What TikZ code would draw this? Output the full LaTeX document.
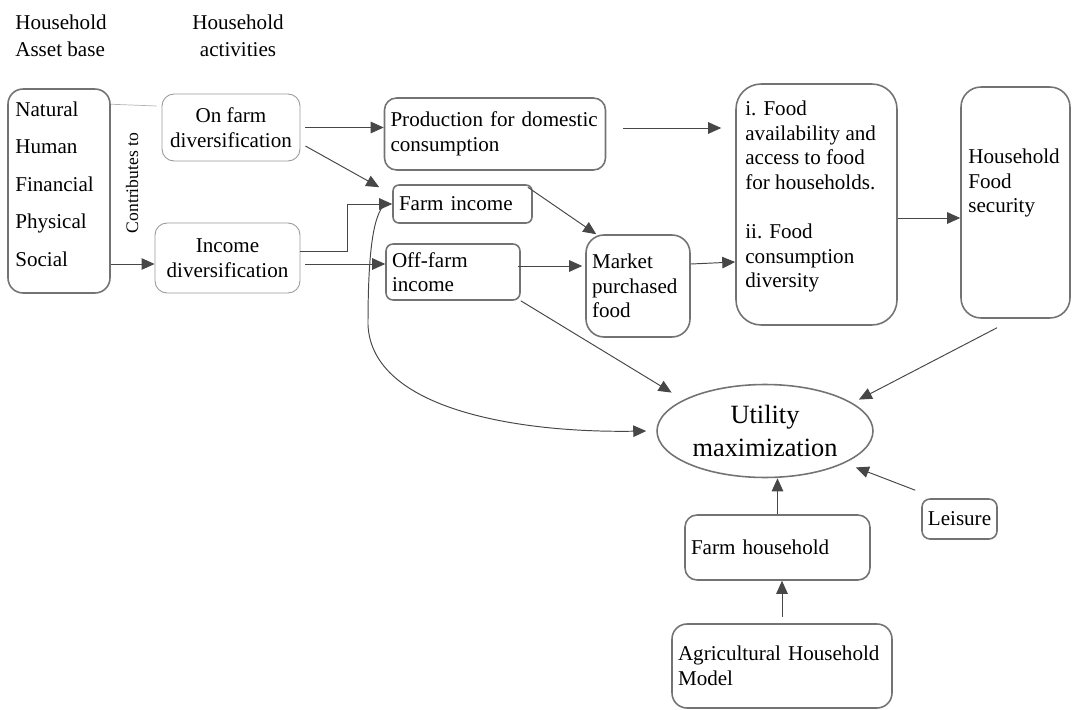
\documentclass[tikz,border=0pt]{standalone}
\usepackage{fontspec}
\setmainfont{Liberation Serif}
\usetikzlibrary{arrows.meta,shapes.geometric,calc}

\begin{document}
\begin{tikzpicture}[x=0.02cm,y=-0.02cm,>={Triangle[length=2.6mm,width=2.3mm]},
  every node/.style={font=\fontsize{12}{14}\selectfont},
  box/.style={draw=black!55, line width=0.9pt, rounded corners=#1, align=left, inner xsep=0.12cm, inner ysep=0pt},
  box/.default=0.24cm,
  thinbox/.style={draw=black!40, line width=0.5pt, rounded corners=0.24cm, align=center, inner sep=0pt},
  conn/.style={draw=black!72, line width=0.55pt, ->},
  thinline/.style={draw=black!30, line width=0.4pt}]
  \useasboundingbox (0,0) rectangle (1076,710);

  \node[align=left, font=\fontsize{12}{15.3}\selectfont] (assettitle) at (61,36) {Household\\Asset base};
  \node[align=center, font=\fontsize{12}{15.3}\selectfont] (acttitle) at (238,36) {Household\\activities};

  \node[box=0.3cm, minimum width=2.04cm, minimum height=4.08cm] (asset) at (59,191) {};
  \node[anchor=west, inner sep=0pt, align=left, font=\fontsize{12}{21.3}\selectfont] (assetlist) at (15,184) {Natural\\Human\\Financial\\Physical\\Social};
  \node[rotate=90, font=\fontsize{10}{12}\selectfont] (contrib) at (132,183) {Contributes to};

  \node[thinbox, minimum width=2.76cm, minimum height=1.34cm] (onfarm) at (231,127.5) {On farm\\diversification};
  \node[thinbox, minimum width=2.9cm, minimum height=1.4cm] (incdiv) at (227.5,258) {Income\\diversification};

  \node[box, text width=4.18cm, minimum height=1.44cm] (prod) at (495,134) {Production for domestic\\consumption};
  \node[box=0.12cm, text width=2.54cm, minimum height=0.76cm] (farminc) at (462.5,204) {Farm income};
  \node[box=0.14cm, text width=2.44cm, minimum height=1.12cm] (offfarm) at (453,272) {Off-farm\\income};
  \node[box=0.36cm, text width=1.84cm, minimum height=2.04cm] (market) at (638,286) {Market\\purchased\\food};

  \node[box=0.5cm, minimum width=3.22cm, minimum height=4.82cm] (food) at (816.5,204.5) {};
  \node[anchor=north west, inner sep=0pt, align=left] (foodtext) at (745,100.5) {i. Food\\availability and\\access to food\\for households.\\[14pt]ii. Food\\consumption\\diversity};
  \node[box=0.4cm, minimum width=2.18cm, minimum height=4.62cm] (hfs) at (1015.5,202.5) {};
  \node[anchor=north west, inner sep=0pt, align=left] (hfstext) at (968,148.5) {Household\\Food\\security};

  \node[ellipse, draw=black!55, line width=0.9pt, minimum width=4.32cm, minimum height=1.86cm, inner sep=0pt, align=center, font=\fontsize{15}{18.3}\selectfont] (util) at (765,431) {Utility\\maximization};
  \node[box, text width=3.46cm, minimum height=1.3cm] (farmhh) at (777.5,547.5) {Farm household};
  \node[box=0.3cm, text width=4.16cm, minimum height=1.68cm] (agri) at (782,666) {Agricultural Household\\Model};
  \node[box=0.16cm, align=center, minimum width=1.5cm, minimum height=0.8cm, inner xsep=0pt] (leisure) at (959.5,519) {Leisure};

  \draw[thinline] ([yshift=-0.32cm]asset.north east) -- ([xshift=-0.1cm,yshift=0.43cm]onfarm.west);
  \draw[conn] ([yshift=-0.12cm]asset.east |- incdiv.west) -- ([yshift=-0.12cm]incdiv.west);
  \draw[conn, shorten <=0.1cm] (onfarm.east) -- (onfarm.east -| prod.west);
  \draw[conn] ([xshift=0.1cm,yshift=-0.37cm]onfarm.east) -- ([xshift=-0.26cm,yshift=-0.06cm]farminc.north west);
  \draw[conn] ([yshift=0.14cm]incdiv.east) -- ++(0.94cm,0) |- (farminc.west);
  \draw[conn, shorten <=0.1cm] ([yshift=-0.12cm]incdiv.east) -- ([yshift=-0.12cm]incdiv.east -| offfarm.west);
  \draw[conn] ([xshift=-0.14cm]farminc.west) .. controls (372,215) and (368,260) .. (368,325)
    .. controls (372,410) and (520,433) .. ([xshift=-0.2cm]util.west);
  \draw[conn] ([xshift=-0.1cm,yshift=-0.06cm]farminc.north east) -- ([xshift=0.22cm]market.north west);
  \draw[conn] ([xshift=-0.06cm,yshift=0.12cm]offfarm.east) -- ([xshift=-0.06cm,yshift=0.12cm]offfarm.east -| market.west);
  \draw[conn] ([yshift=0.44cm]market.east) -- ([yshift=-1.15cm]food.west);
  \draw[conn] ([xshift=0.34cm,yshift=0.12cm]prod.east) -- ([xshift=-0.28cm,yshift=0.12cm]prod.east -| food.west);
  \draw[conn] ([yshift=-0.27cm]food.east) -- ([yshift=-0.27cm]food.east -| hfs.west);
  \draw[conn] ([xshift=-0.37cm,yshift=-0.18cm]hfs.south) -- ([xshift=0.34cm,yshift=-0.04cm]util.north east);
  \draw[conn] (offfarm.south east) -- ([xshift=-0.33cm,yshift=0.1cm]util.north west);
  \draw[conn] (farmhh.north) -- (farmhh.north |- util.south);
  \draw[conn, shorten <=0.12cm] (agri.north) -- (agri.north |- farmhh.south);
  \draw[conn] ([xshift=-0.12cm,yshift=0.16cm]leisure.north west) -- ([xshift=0.28cm,yshift=-0.06cm]util.south east);
\end{tikzpicture}
\end{document}
